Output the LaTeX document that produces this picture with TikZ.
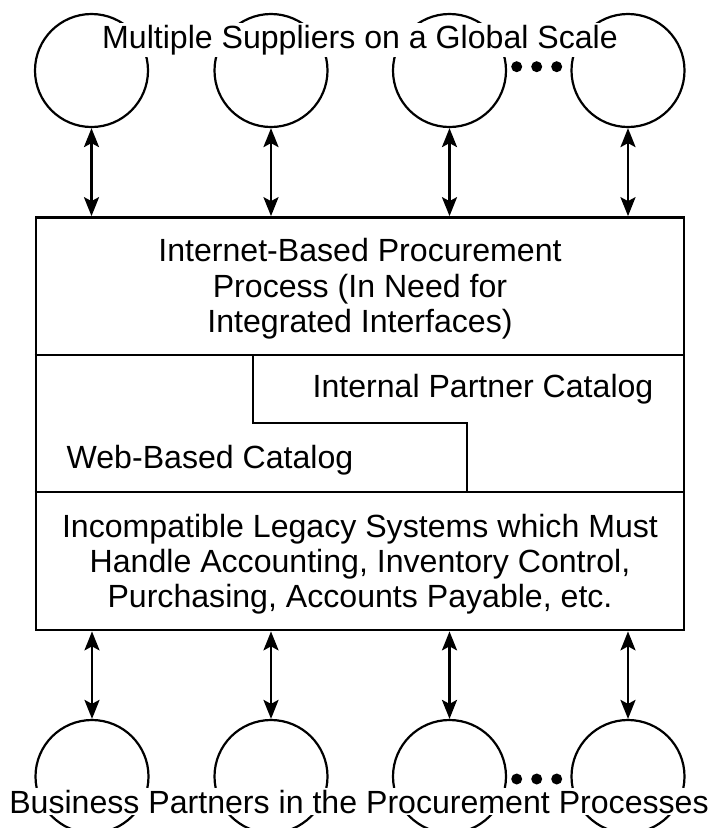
\documentclass[tikz,border=0pt]{standalone}
\usepackage{fontspec}
\setmainfont{Liberation Sans}
\usetikzlibrary{arrows.meta}
\begin{document}
\begin{tikzpicture}[x=1pt,y=-1pt,
  every node/.style={font=\fontsize{32.1}{35.2}\selectfont},
  party/.style={circle,draw,line width=2.2pt,minimum size=113pt,inner sep=0pt},
  link/.style={{Stealth[length=19pt,width=15pt,inset=4pt]}-{Stealth[length=19pt,width=15pt,inset=4pt]},line width=2.5pt},
  banner/.style={fill=white,inner sep=2pt},
  txt/.style={inner sep=0pt},
  rule/.style={line width=2.5pt}]
\useasboundingbox (0,0) rectangle (715,828);
\clip (0,0) rectangle (715,828);
\fill[white] (0,0) rectangle (715,828);

% supplier circles
\node[party] (s1) at (91.5,70.5) {};
\node[party] (s2) at (271,70.5) {};
\node[party] (s3) at (449.5,70.5) {};
\node[party] (s4) at (628,70.5) {};
% partner circles
\node[party] (p1) at (92,776.5) {};
\node[party] (p2) at (271,776.5) {};
\node[party] (p3) at (449.5,776.5) {};
\node[party] (p4) at (628,776.5) {};

% dots
\fill (516.7,66.7) circle (5.5pt) (536.7,66.7) circle (5.5pt) (556.7,66.7) circle (5.5pt);
\fill (516.7,779) circle (5.5pt) (536.7,779) circle (5.5pt) (556.7,779) circle (5.5pt);

% main box
\node[draw,line width=2.7pt,minimum width=648pt,minimum height=412.5pt,inner sep=0pt] (box) at (360,423.75) {};
\coordinate (d1) at (0,355);
\coordinate (d2) at (0,492);
\draw[rule] (box.west |- d1) -- (box.east |- d1);
\draw[rule] (box.west |- d2) -- (box.east |- d2);
\coordinate (k1) at (253,355);
\coordinate (k2) at (253,423);
\coordinate (k3) at (467,423);
\coordinate (k4) at (467,492);
\draw[line width=2.2pt] (k1) -- (k2) -- (k3) -- (k4);

% arrows
\foreach \i in {1,2,3,4} {
  \draw[link] (s\i.south) -- (s\i.south |- box.north);
  \draw[link] (box.south -| p\i.north) -- (p\i.north);
}

% texts
\node[banner,anchor=base] (top) at (360,48) {Multiple Suppliers on a Global Scale};
\node[banner,anchor=base] (bottom) at (359,813) {Business Partners in the Procurement Processes};
\node[txt,align=center] (proc) at (360,288.7) {Internet-Based Procurement\\Process (In Need for\\Integrated Interfaces)};
\node[txt,anchor=base] (ipc) at (483,397) {Internal Partner Catalog};
\node[txt,anchor=base] (web) at (210,468) {Web-Based Catalog};
\node[txt,align=center] (legacy) at (360,563.9) {Incompatible Legacy Systems which Must\\Handle Accounting, Inventory Control,\\Purchasing, Accounts Payable, etc.};
\end{tikzpicture}
\end{document}
